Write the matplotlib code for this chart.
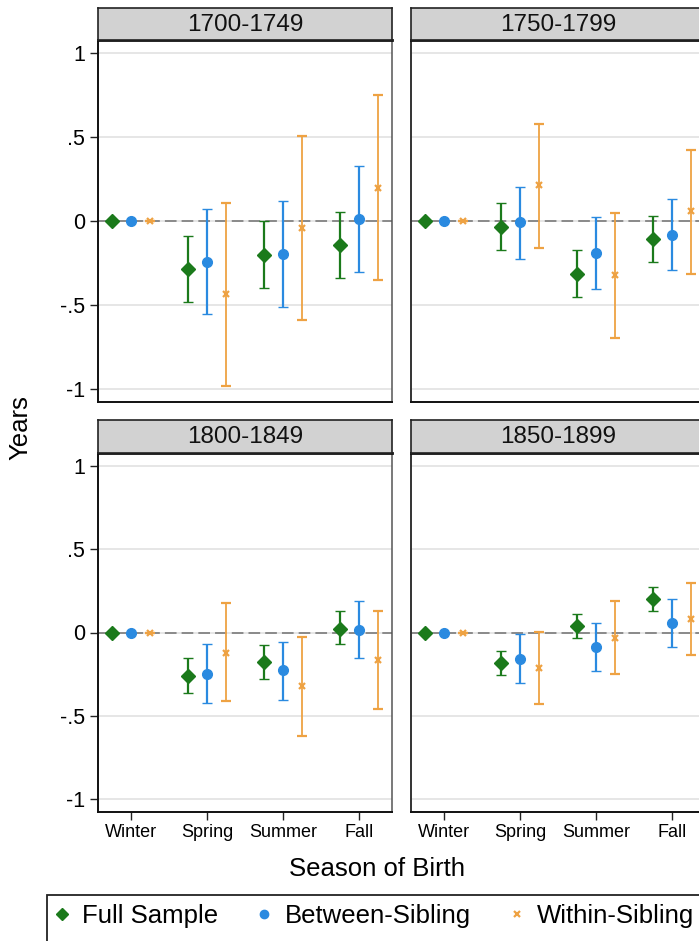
import matplotlib
matplotlib.use('Agg')
import matplotlib.pyplot as plt
from matplotlib.patches import Rectangle
from matplotlib.lines import Line2D
import numpy as np

plt.rcParams['font.family'] = ['Liberation Sans', 'DejaVu Sans']

periods = ['1700-1749', '1750-1799', '1800-1849', '1850-1899']
seasons = ['Winter', 'Spring', 'Summer', 'Fall']
series_names = ['Full Sample', 'Between-Sibling', 'Within-Sibling']
yticks = [-1, -0.5, 0, 0.5, 1]
ytick_labels = ['-1', '-.5', '0', '.5', '1']

# rows = periods, columns = seasons
full_est = [[0, -0.285, -0.202, -0.146], [0, -0.037, -0.315, -0.110],
            [0, -0.260, -0.179, 0.024], [0, -0.185, 0.040, 0.203]]
full_lo = [[0, -0.485, -0.401, -0.341], [0, -0.172, -0.451, -0.246],
           [0, -0.363, -0.280, -0.071], [0, -0.258, -0.032, 0.131]]
full_hi = [[0, -0.087, 0.000, 0.055], [0, 0.106, -0.172, 0.031],
           [0, -0.155, -0.075, 0.129], [0, -0.111, 0.111, 0.272]]

betw_est = [[0, -0.246, -0.196, 0.009], [0, -0.007, -0.192, -0.082],
            [0, -0.248, -0.228, 0.016], [0, -0.159, -0.087, 0.060]]
betw_lo = [[0, -0.554, -0.515, -0.306], [0, -0.226, -0.405, -0.291],
           [0, -0.423, -0.407, -0.155], [0, -0.306, -0.230, -0.087]]
betw_hi = [[0, 0.069, 0.122, 0.327], [0, 0.202, 0.023, 0.132],
           [0, -0.071, -0.056, 0.191], [0, -0.012, 0.060, 0.203]]

with_est = [[0, -0.435, -0.043, 0.198], [0, 0.212, -0.325, 0.059],
            [0, -0.121, -0.324, -0.165], [0, -0.214, -0.036, 0.083]]
with_lo = [[0, -0.986, -0.590, -0.351], [0, -0.162, -0.700, -0.315],
           [0, -0.415, -0.622, -0.459], [0, -0.433, -0.248, -0.135]]
with_hi = [[0, 0.106, 0.510, 0.749], [0, 0.580, 0.049, 0.425],
           [0, 0.179, -0.026, 0.131], [0, 0.004, 0.187, 0.298]]

W, H = 699, 941
fig = plt.figure(figsize=(W / 100, H / 100), dpi=100)
fig.patch.set_facecolor('white')


def fx(px):
    return px / W


def fy(py):
    return 1 - py / H


green = '#1b7a1b'
blue = '#2a8ae0'
orange = '#eea243'

series = [
    (full_est, full_lo, full_hi, green, 'D', 7.0, -0.25, 1.6),
    (betw_est, betw_lo, betw_hi, blue, 'o', 7.0, 0.0, 1.6),
    (with_est, with_lo, with_hi, orange, 'x', 4.0, 0.25, 1.3),
]

lefts = [98, 411]
rows = [(8, 40, 402), (420, 453, 812)]
pw = 294
xpos = np.arange(1, len(seasons) + 1)

for i, period in enumerate(periods):
    r, c = divmod(i, 2)
    htop, ptop, pbot = rows[r]
    left = lefts[c]
    ax = fig.add_axes([fx(left), fy(pbot), pw / W, (pbot - ptop) / H])
    ax.set_xlim(1 - 33 / 76, 4 + 33 / 76)
    ax.set_ylim(-1.08, 1.08)
    for yv in yticks:
        ax.axhline(yv, color='#e4e4e4', lw=1.3, zorder=0)
    ax.axhline(0, color='#8a8a8a', lw=1.4, ls=(0, (6, 2.6)), zorder=1)
    for est, lo, hi, col, mk, ms, off, elw in series:
        e = np.array(est[i])
        l = np.array(lo[i])
        h = np.array(hi[i])
        ax.errorbar(xpos + off, e, yerr=[e - l, h - e], fmt=mk, color=col,
                    ms=ms, mew=1.6 if mk == 'x' else 1.0, elinewidth=elw,
                    capsize=3.5, capthick=elw, zorder=3)
    ax.set_yticks(yticks)
    ax.set_xticks(xpos)
    ax.tick_params(axis='both', direction='out', length=5.5, width=1.0,
                   color='#222222')
    if c == 0:
        ax.set_yticklabels(ytick_labels, fontsize=15.5)
        ax.tick_params(axis='y', pad=4)
    else:
        ax.tick_params(axis='y', left=False, labelleft=False)
    if r == 1:
        ax.set_xticklabels(seasons, fontsize=13)
        ax.tick_params(axis='x', pad=3)
    else:
        ax.tick_params(axis='x', bottom=False, labelbottom=False)
    for s in ['left', 'bottom']:
        ax.spines[s].set_color('#333333' if c == 1 and s == 'left' else '#111111')
        ax.spines[s].set_linewidth(1.4)
    ax.spines['right'].set_color('#555555')
    ax.spines['right'].set_linewidth(1.1)
    ax.spines['top'].set_color('#111111')
    ax.spines['top'].set_linewidth(2.0)

    hax = fig.add_axes([fx(left), fy(ptop), pw / W, (ptop - htop) / H])
    hax.set_facecolor('#d2d2d2')
    hax.set_xticks([])
    hax.set_yticks([])
    for s in hax.spines.values():
        s.set_color('#222222')
        s.set_linewidth(1.2)
    hax.text(0.5, 0.47, period, ha='center', va='center', fontsize=17.5,
             transform=hax.transAxes, color='#111111')

fig.text(fx(20), fy(428), 'Years', rotation=90, ha='center', va='center',
         fontsize=18.5)
fig.text(fx(377), fy(869), 'Season of Birth', ha='center', va='center',
         fontsize=18.5)

# legend frame (extends past the figure edge like the reference crop)
fig.patches.append(Rectangle((fx(47), fy(960)), (760 - 47) / W, (960 - 895) / H,
                             transform=fig.transFigure, facecolor='white',
                             edgecolor='#222222', lw=1.3, zorder=0))

handles = [
    Line2D([], [], ls='none', marker='D', color=green, ms=6.0),
    Line2D([], [], ls='none', marker='o', color=blue, ms=6.0),
    Line2D([], [], ls='none', marker='x', color=orange, ms=4.5, mew=1.6),
]
fig.legend(handles, series_names, loc='center left',
           bbox_to_anchor=(fx(51.7), fy(916)), ncol=3, frameon=False,
           fontsize=18.5, handlelength=0.8, handletextpad=0.38,
           columnspacing=1.40, borderpad=0, borderaxespad=0)

fig.savefig('out.png', dpi=100, facecolor='white')
